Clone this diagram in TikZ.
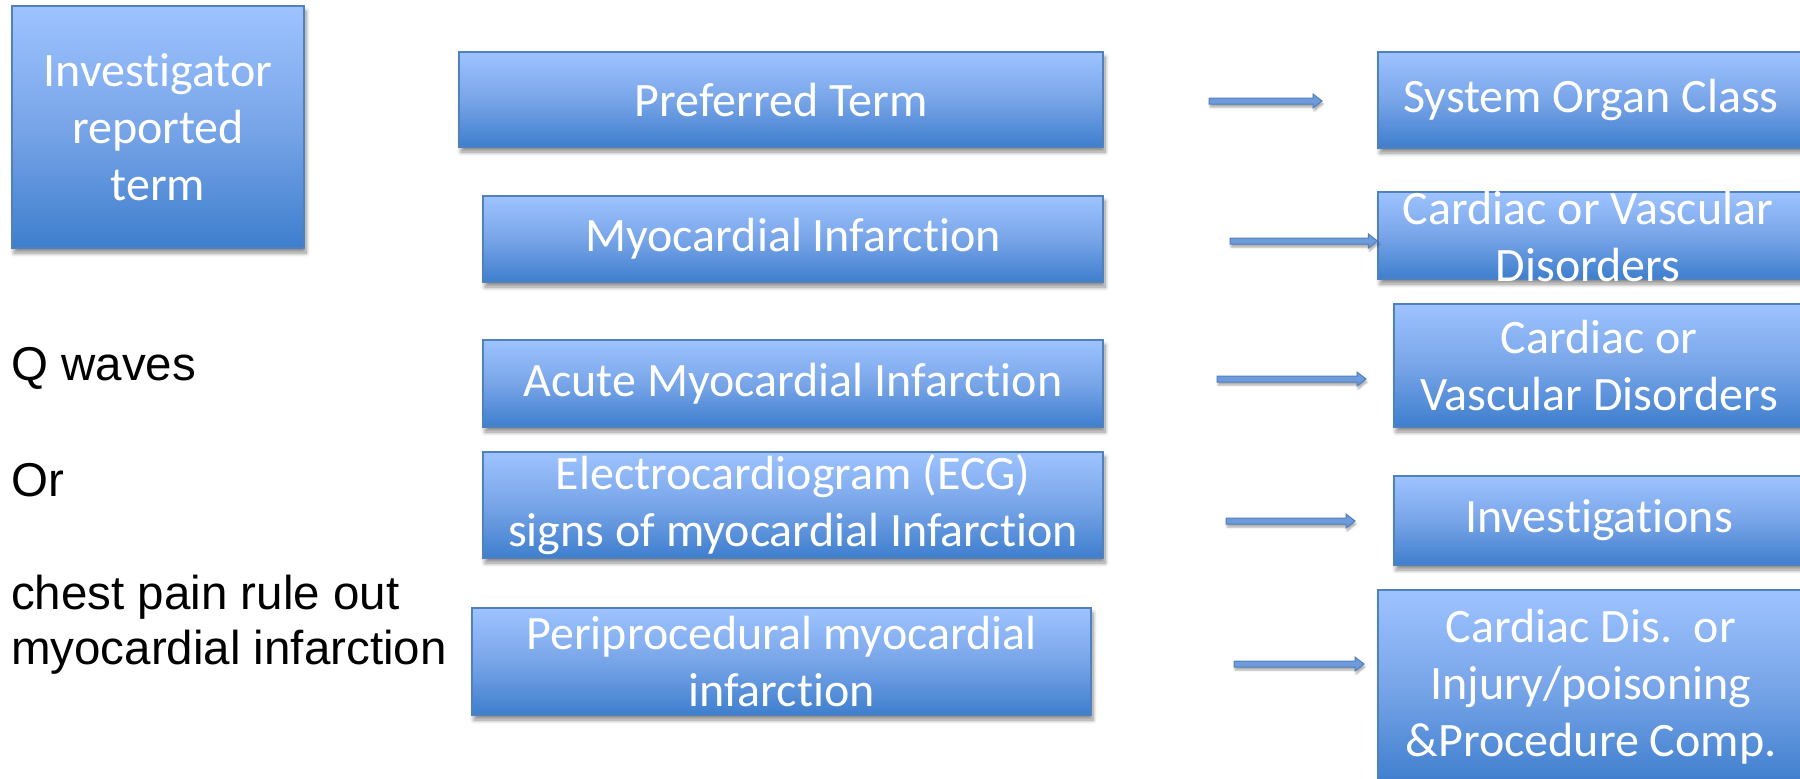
\documentclass[tikz,border=0pt]{standalone}
\usepackage{fontspec}
\setmainfont{Liberation Sans}
\newfontfamily\boxfont[Ligatures=NoCommon]{Carlito}
\usetikzlibrary{calc,shadows.blur}

\definecolor{boxtop}{RGB}{158,195,255}
\definecolor{boxmid}{RGB}{120,165,232}
\definecolor{boxbot}{RGB}{62,126,205}
\definecolor{boxedge}{RGB}{80,128,190}
\definecolor{arrowfill}{RGB}{110,155,220}

\tikzset{
  termbox/.style={draw=boxedge, line width=1.2pt, top color=boxtop, bottom color=boxbot,
    middle color=boxmid, rectangle, inner sep=0pt, align=center, text=white,
    font=\boxfont\fontsize{48}{57}\selectfont,
    blur shadow={shadow xshift=2pt, shadow yshift=-5pt, shadow opacity=45, shadow blur steps=8, shadow blur radius=4pt}},
  boxlabel/.style={inner sep=0pt, align=center, text=white, font=\boxfont\fontsize{48}{57}\selectfont},
  sidetext/.style={inner sep=0pt, anchor=west, align=left, font=\fontsize{47.5}{55}\selectfont},
  flowarrow/.style={draw=boxedge, fill=arrowfill, line width=1pt,
    blur shadow={shadow xshift=1pt, shadow yshift=-3pt, shadow opacity=35, shadow blur steps=5, shadow blur radius=2pt}}
}

% thin block arrow from one named point to another
\newcommand{\blockarrow}[2]{%
  \draw[flowarrow] ($(#1)+(0,-3)$) -- ($(#2)+(-9,-3)$) -- ($(#2)+(-9,-7)$) -- (#2)
    -- ($(#2)+(-9,7)$) -- ($(#2)+(-9,3)$) -- ($(#1)+(0,3)$) -- cycle;}

\begin{document}
\begin{tikzpicture}[x=1pt,y=-1pt]
\useasboundingbox (0,0) rectangle (1800,779);

% left column
\node[termbox, minimum width=292pt, minimum height=242pt] (inv) at (158,127) {Investigator\\reported\\term};
\node[sidetext] (qw) at (11,368) {Q waves};
\node[sidetext] (orw) at (11,480) {Or};
\node[sidetext] (chest) at (11,625) {chest pain rule out\\myocardial infarction};

% preferred terms
\node[termbox, minimum width=644pt, minimum height=95pt] (pt) at (781,99.5) {Preferred Term};
\node[termbox, minimum width=620pt, minimum height=86pt] (mi) at (793,239) {Myocardial Infarction};
\node[termbox, minimum width=620pt, minimum height=87pt] (ami) at (793,383.5) {Acute Myocardial Infarction};
\node[termbox, minimum width=620pt, minimum height=106pt] (ecg) at (793,505) {Electrocardiogram (ECG)\\signs of myocardial Infarction};
\node[termbox, minimum width=619pt, minimum height=107pt] (peri) at (781.5,661.5) {Periprocedural myocardial\\infarction};

% system organ classes
\node[termbox, minimum width=426pt, minimum height=96pt] (soc) at (1591,100) {System Organ Class};
\node[termbox, minimum width=426pt, minimum height=87pt] (cvd) at (1591,235.5) {};
\node[boxlabel] (cvdtext) at (1588,237) {Cardiac or Vascular\\Disorders};
\node[termbox, minimum width=410pt, minimum height=123pt] (cvdb) at (1599,365.5) {Cardiac or\\Vascular Disorders};
\node[termbox, minimum width=410pt, minimum height=89pt] (inves) at (1599,520.5) {Investigations};
\node[termbox, minimum width=426pt, minimum height=194pt] (cdis) at (1591,687) {Cardiac Dis.\ \ or\\Injury/poisoning\\\&Procedure Comp.};

% arrow end points
\coordinate (a1s) at (1209,101);  \coordinate (a1e) at (1322,101);
\coordinate (a2s) at (1230,241);  \coordinate (a2e) at (cvd.west |- a2s);
\coordinate (a3s) at (1217,379);  \coordinate (a3e) at (1366,379);
\coordinate (a4s) at (1226,521);  \coordinate (a4e) at (1355,521);
\coordinate (a5s) at (1234,664);  \coordinate (a5e) at (1364,664);

\blockarrow{a1s}{a1e}
\blockarrow{a2s}{a2e}
\blockarrow{a3s}{a3e}
\blockarrow{a4s}{a4e}
\blockarrow{a5s}{a5e}
\end{tikzpicture}
\end{document}
